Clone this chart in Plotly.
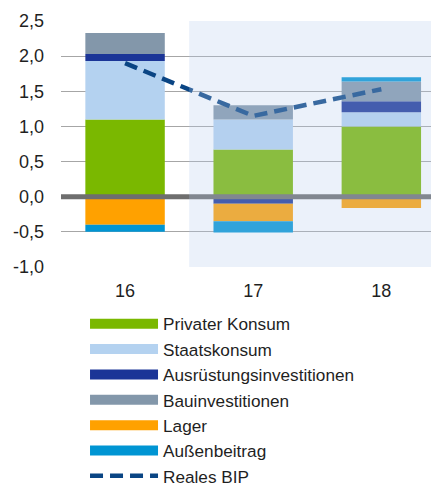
import plotly.graph_objects as go

# data (contributions to GDP growth, %-points)
years = ["16", "17", "18"]
privater_konsum = [1.1, 0.67, 1.0]
staatskonsum = [0.83, 0.43, 0.2]
ausruestung = [0.1, -0.1, 0.16]
bau = [0.3, 0.2, 0.28]
lager = [-0.4, -0.25, -0.16]
aussenbeitrag = [-0.1, -0.16, 0.06]
reales_bip = [1.9, 1.15, 1.53]

y_ticks = [-1.0, -0.5, 0.0, 0.5, 1.0, 1.5, 2.0, 2.5]
y_labels = [f"{v:.1f}".replace(".", ",") for v in y_ticks]

series = [
    ("Privater Konsum", privater_konsum, "#7AB800"),
    ("Staatskonsum", staatskonsum, "#B4D2F0"),
    ("Ausrüstungsinvestitionen", ausruestung, "#1B3597"),
    ("Bauinvestitionen", bau, "#8397AA"),
    ("Lager", lager, "#FFA100"),
    ("Außenbeitrag", aussenbeitrag, "#0095D3"),
]

fig = go.Figure()

for name, vals, col in series:
    fig.add_trace(go.Bar(x=years, y=vals, name=name, marker_color=col,
                         marker_line_width=0, width=0.62, showlegend=False))
    # wide line swatch for the legend
    fig.add_trace(go.Scatter(x=[None], y=[None], mode="lines", name=name,
                             line=dict(color=col, width=10)))

fig.add_trace(go.Scatter(x=years, y=reales_bip, mode="lines", name="Reales BIP",
                         line=dict(color="#0A4584", width=4.5, dash="13px,7px")))

# thick zero line on top of the bars
fig.add_shape(type="line", xref="paper", x0=0, x1=1, yref="y", y0=0, y1=0,
              line=dict(color="#6E6E6E", width=5), layer="above")
# forecast shading (drawn over everything, semi transparent)
fig.add_shape(type="rect", xref="x", x0=0.5, x1=2.6, yref="y", y0=-1.0, y1=2.5,
              fillcolor="rgba(180,204,235,0.27)", line_width=0, layer="above")

# page body has an 8px margin, so the figure is sized to fit the window
fig.update_layout(
    width=431, height=478,
    margin=dict(l=53, r=0, t=13, b=219, autoexpand=False),
    barmode="relative",
    plot_bgcolor="white", paper_bgcolor="white",
    font=dict(family="Liberation Sans, Arial", size=18, color="#1F1F1F"),
    legend=dict(xref="container", yref="container", x=0.1787, y=0.3765,
                xanchor="left", yanchor="top",
                itemwidth=68, tracegroupgap=0, traceorder="normal",
                font=dict(size=17.2), bgcolor="rgba(0,0,0,0)"),
)
fig.update_xaxes(range=[-0.5, 2.45], showgrid=False, showline=False,
                 ticks="", tickfont=dict(size=18), automargin=False,
                 ticklabelstandoff=11)
fig.update_yaxes(range=[-1.0, 2.5], tickvals=y_ticks, ticktext=y_labels,
                 showgrid=True, gridcolor="#A6A6A6", gridwidth=1,
                 zeroline=False, ticks="", tickfont=dict(size=18),
                 automargin=False, ticklabelstandoff=16)

fig.write_html("out.html")
